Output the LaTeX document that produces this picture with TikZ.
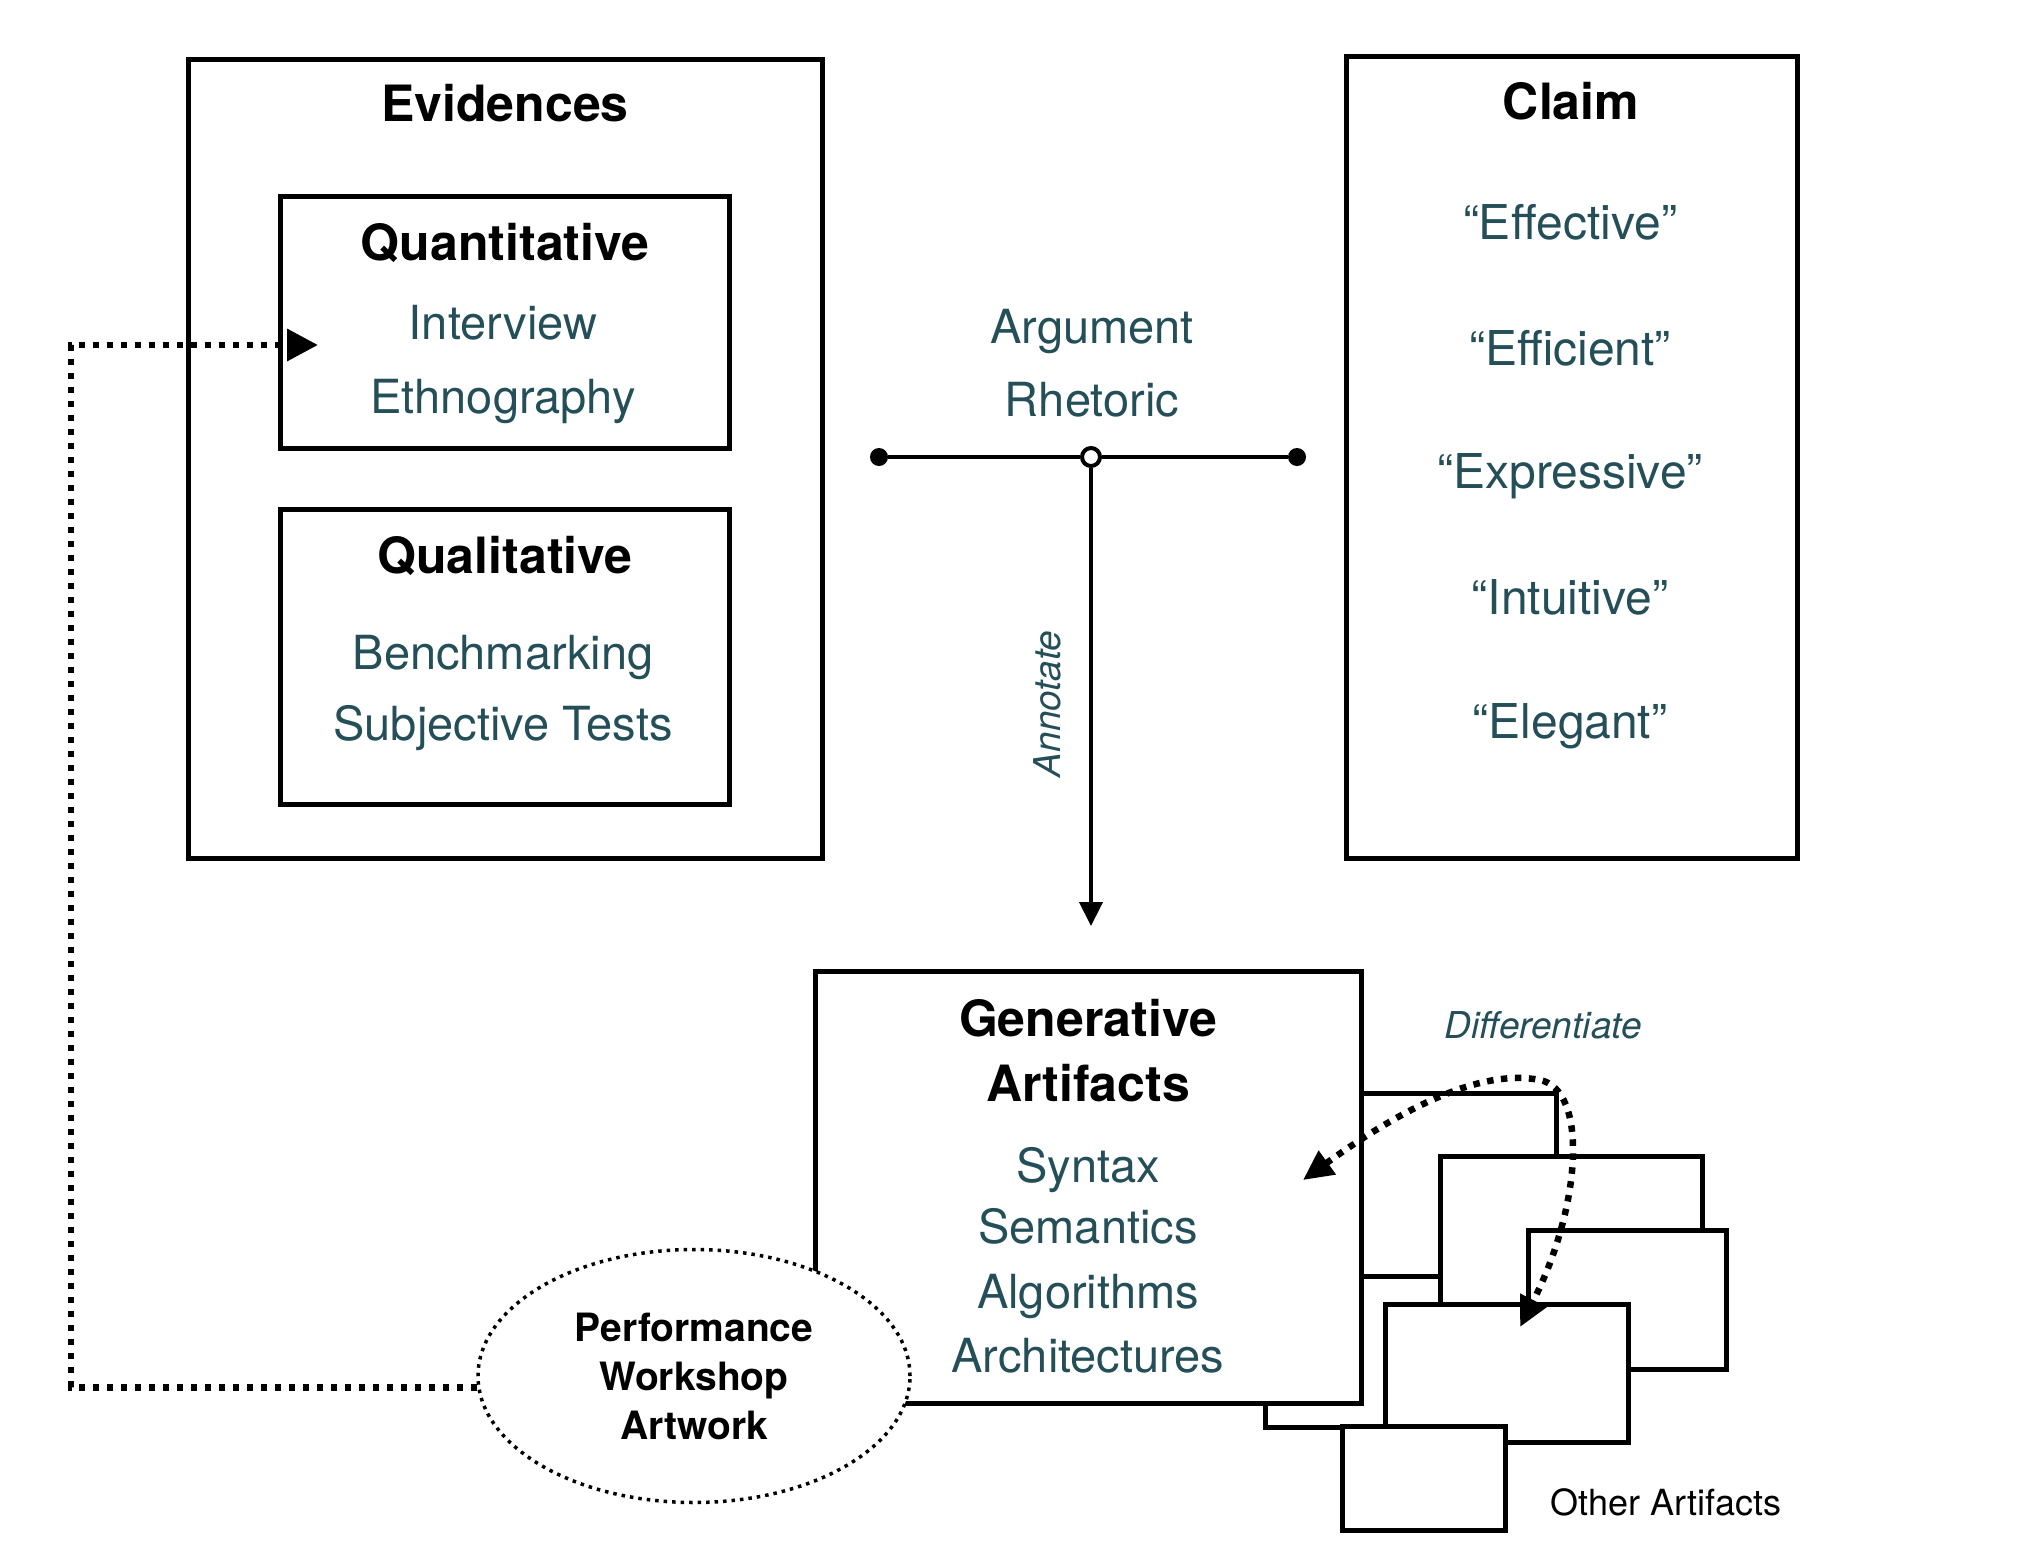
\documentclass[tikz,border=0pt]{standalone}
\usepackage{fontspec}
\setmainfont{TeX Gyre Heros}
\usetikzlibrary{arrows.meta,shapes.geometric}
\definecolor{teal}{RGB}{36,79,89}
\tikzset{
  box/.style={draw=black,line width=5pt,fill=white,inner sep=0pt},
  ttl/.style={anchor=base,font=\fontsize{50}{60}\selectfont\bfseries,text=black,inner sep=0pt},
  itm/.style={anchor=base,font=\fontsize{47}{56}\selectfont,text=teal,inner sep=0pt},
  clm/.style={anchor=base,font=\fontsize{48}{56}\selectfont,text=teal,inner sep=0pt},
  lbl/.style={anchor=base,font=\fontsize{37}{44}\selectfont\itshape,text=teal,inner sep=0pt},
  perf/.style={anchor=base,font=\fontsize{39}{46}\selectfont\bfseries,text=black,inner sep=0pt},
  dotline/.style={line width=6.5pt,dash pattern=on 6.5pt off 7.5pt},
  dotell/.style={line width=3.5pt,dash pattern=on 3.5pt off 5pt},
  soliddot/.style={circle,fill=black,inner sep=0pt,minimum size=18pt},
  opendot/.style={circle,draw=black,fill=white,line width=4pt,inner sep=0pt,minimum size=18pt},
  bigtip/.style={-{Triangle[length=31pt,width=31pt]}},
  difftip/.style={{Triangle[length=30pt,width=28pt]}-{Triangle[length=30pt,width=28pt]}},
}
\begin{document}
\begin{tikzpicture}[x=1pt,y=-1pt]
\fill[white] (0,0) rectangle (2024,1558);
\useasboundingbox (0,0) rectangle (2024,1558);

% Evidences
\node[box,minimum width=634pt,minimum height=799pt] (evid) at (505,458.5) {};
\node[ttl] (evidt) at (505,121) {Evidences};
\node[box,minimum width=449pt,minimum height=252pt] (quant) at (504.5,322) {};
\node[ttl] (quantt) at (505,260) {Quantitative};
\node[itm] (interview) at (503,339) {Interview};
\node[itm] (ethno) at (503,413) {Ethnography};
\node[box,minimum width=449pt,minimum height=295pt] (qual) at (504.5,656.5) {};
\node[ttl] (qualt) at (505,573) {Qualitative};
\node[itm] (bench) at (503,669) {Benchmarking};
\node[itm] (subj) at (503,740) {Subjective Tests};

% Claim
\node[box,minimum width=451pt,minimum height=802pt] (claim) at (1571.5,457) {};
\node[ttl] (claimt) at (1571,119) {Claim};
\node[clm] (c1) at (1570,239) {“Effective”};
\node[clm] (c2) at (1570,365) {“Efficient”};
\node[clm] (c3) at (1570,488) {“Expressive”};
\node[clm] (c4) at (1570,614) {“Intuitive”};
\node[clm] (c5) at (1570,738) {“Elegant”};

% Argument
\node[itm] (arg) at (1092,343) {Argument};
\node[itm] (rhet) at (1092,416) {Rhetoric};
\node[soliddot] (dl) at (879,457) {};
\node[soliddot] (dr) at (1297,457) {};
\node[opendot] (dc) at (1091,457) {};
\draw[line width=4.3pt] (dl) -- (dc) -- (dr);
\coordinate (anntip) at (1091,926);
\draw[line width=4.3pt,-{Triangle[length=24pt,width=23pt]}] (dc) -- (anntip);
\node[lbl,rotate=90] (annot) at (1060,704) {Annotate};

% stacked artifacts
\node[box,minimum width=556pt,minimum height=183pt] (artA) at (1278,1184.5) {};
\draw[line width=5pt] (1265,1390) -- (1265,1427) -- (1350,1427);
\node[box,minimum width=546pt,minimum height=432pt] (gen) at (1088,1187) {};
\node[ttl] (gent1) at (1088,1036) {Generative};
\node[ttl] (gent2) at (1088,1101) {Artifacts};
\node[itm] (syn) at (1088,1182) {Syntax};
\node[itm] (sem) at (1088,1243) {Semantics};
\node[itm] (alg) at (1088,1308) {Algorithms};
\node[itm] (arch) at (1088,1372) {Architectures};
\node[box,minimum width=262pt,minimum height=190pt] (artB) at (1571,1251) {};
\node[box,minimum width=198pt,minimum height=139pt] (artC) at (1627,1299.5) {};
\node[box,minimum width=243pt,minimum height=138pt] (artD) at (1506.5,1373) {};
\node[box,minimum width=163pt,minimum height=104pt] (artF) at (1423.5,1478) {};
\node[anchor=base,font=\fontsize{36}{42}\selectfont,inner sep=0pt] (other) at (1666,1515) {Other Artifacts};

% Differentiate
\node[lbl] (diff) at (1543,1038) {Differentiate};
\coordinate (dtipA) at (1303,1180);
\coordinate (dtipB) at (1520,1327);
\draw[dotline,difftip]
  (dtipA) .. controls (1400,1110) and (1480,1068) .. (1540,1080)
  .. controls (1588,1090) and (1582,1205) .. (dtipB);

% Performance ellipse
\node[ellipse,draw=black,dotell,fill=white,minimum width=432pt,minimum height=253pt,inner sep=0pt] (ell) at (694,1376) {};
\node[perf] (p1) at (694,1341) {Performance};
\node[perf] (p2) at (694,1390) {Workshop};
\node[perf] (p3) at (694,1439) {Artwork};

\coordinate (corner) at (71,345);
\coordinate (qtip) at (318,345);
\draw[dotline,bigtip] (ell.183) -| (corner) -- (qtip);
\end{tikzpicture}
\end{document}
